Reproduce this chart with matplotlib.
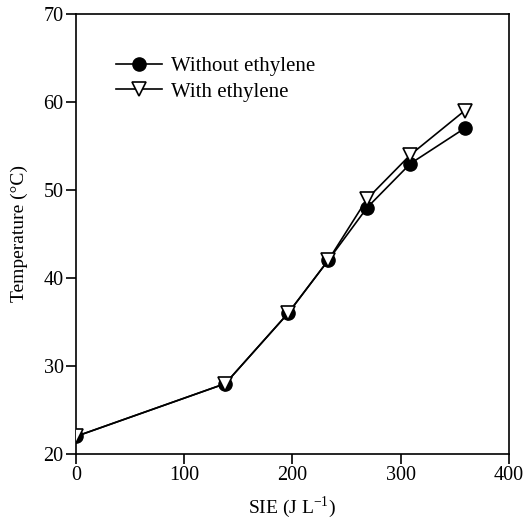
import matplotlib
matplotlib.use("Agg")
import matplotlib.pyplot as plt

sie = [0, 138, 196, 233, 269, 309, 359]
temp_without = [22, 28, 36, 42, 48, 53, 57]
temp_with = [22, 28, 36, 42, 49, 54, 59]
xticks = [0, 100, 200, 300, 400]
yticks = [20, 30, 40, 50, 60, 70]

plt.rcParams['font.family'] = ['Liberation Serif', 'DejaVu Serif']
plt.rcParams['mathtext.fontset'] = 'custom'
plt.rcParams['mathtext.rm'] = 'Liberation Serif'

fig = plt.figure(figsize=(5.29, 5.26), dpi=100)
ax = fig.add_axes([0.1437, 0.1369, 0.962 - 0.1437, 0.9734 - 0.1369])

ax.plot(sie, temp_without, color='black', lw=1.2, marker='o', ms=9.5,
        mfc='black', mec='black', label='Without ethylene', zorder=2)
ax.plot(sie, temp_with, color='black', lw=1.2, marker='v', ms=10.5,
        mfc='white', mec='black', mew=1.2, label='With ethylene', zorder=3)

ax.set_xlim(0, 400)
ax.set_ylim(20, 70)
ax.set_xticks(xticks)
ax.set_yticks(yticks)
ax.tick_params(direction='out', length=7, width=1.2, labelsize=14.5,
               top=False, right=False, pad=2)
for s in ax.spines.values():
    s.set_linewidth(1.2)

ax.set_xlabel(r'SIE (J L$^{\mathrm{-1}}$)', fontsize=14, labelpad=6)
ax.set_ylabel('Temperature (°C)', fontsize=14, labelpad=11)

leg = ax.legend(loc='upper left', bbox_to_anchor=(0.073, 0.922), frameon=False,
                fontsize=15, handlelength=2.2, handletextpad=0.45,
                labelspacing=0.28, borderaxespad=0)

fig.savefig('out.png', dpi=100)
